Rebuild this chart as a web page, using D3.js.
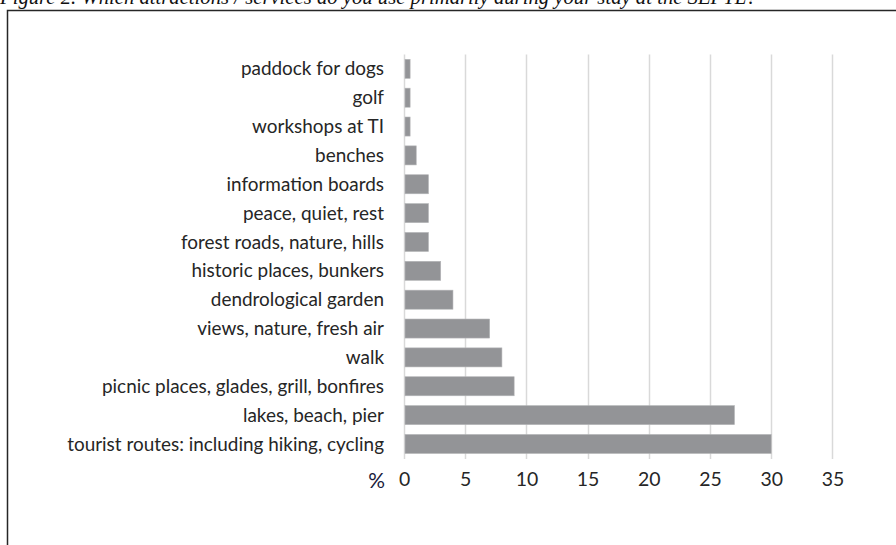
<!DOCTYPE html>
<html>
<head>
<meta charset="utf-8">
<script src="https://cdn.jsdelivr.net/npm/d3@7"></script>
<style>
  html, body { margin: 0; padding: 0; background: #fff; }
  svg { display: block; }
</style>
</head>
<body>
<svg id="chart" width="896" height="545"></svg>
<script>
const title = "Figure 2. Which attractions / services do you use primarily during your stay at the SEPTL?";
const categories = [
  "paddock for dogs",
  "golf",
  "workshops at TI",
  "benches",
  "information boards",
  "peace, quiet, rest",
  "forest roads, nature, hills",
  "historic places, bunkers",
  "dendrological garden",
  "views, nature, fresh air",
  "walk",
  "picnic places, glades, grill, bonfires",
  "lakes, beach, pier",
  "tourist routes: including hiking, cycling"
];
const values = [0.5, 0.5, 0.5, 1, 2, 2, 2, 3, 4, 7, 8, 9, 27, 30];
const tickValues = [0, 5, 10, 15, 20, 25, 30, 35];
const axisUnit = "%";

const svg = d3.select("#chart");

// frame
svg.append("path")
  .attr("d", "M7.5,545 L7.5,10.5 L896,10.5")
  .attr("fill", "none")
  .attr("stroke", "#262626")
  .attr("stroke-width", 1.5);

// title (clipped at top)
const t = svg.append("text")
  .attr("x", 0)
  .attr("y", 4)
  .attr("font-family", "'Liberation Serif', serif")
  .attr("font-style", "italic")
  .attr("font-size", 15)
  .attr("fill", "#111")
  .text(title);
const tw = t.node().getComputedTextLength();
t.attr("font-size", 15 * 757 / tw);

const x = d3.scaleLinear().domain([0, 35]).range([404, 832.4]);
const y = d3.scaleBand().domain(categories).range([54.4, 458.4]).paddingInner(0.34).paddingOuter(0.17);

// gridlines
svg.append("g")
  .selectAll("line")
  .data(tickValues)
  .join("line")
  .attr("x1", d => Math.round(x(d)) + 0.5)
  .attr("x2", d => Math.round(x(d)) + 0.5)
  .attr("y1", 54.5)
  .attr("y2", 459)
  .attr("stroke", "#d9d9d9")
  .attr("stroke-width", 1.5);

// bars
svg.append("g")
  .selectAll("rect")
  .data(values)
  .join("rect")
  .attr("x", x(0) + 1)
  .attr("y", (d, i) => y(categories[i]))
  .attr("width", d => x(d) - x(0) - 1)
  .attr("height", y.bandwidth())
  .attr("fill", "#939497")
  .attr("stroke", "#b5b6b8")
  .attr("stroke-width", 0.6);

// category labels
const labelFont = "Lato, 'Open Sans', sans-serif";
const labels = svg.append("g")
  .selectAll("text")
  .data(categories)
  .join("text")
  .attr("x", 384)
  .attr("y", d => y(d) + y.bandwidth() / 2)
  .attr("dy", "0.35em")
  .attr("text-anchor", "end")
  .attr("font-family", labelFont)
  .attr("font-size", 15)
  .attr("fill", "#262626")
  .text(d => d);
let maxW = 0;
labels.each(function() { maxW = Math.max(maxW, this.getComputedTextLength()); });
const fs = 15 * 317 / maxW;
labels.attr("font-size", fs);

// x axis tick labels
const axis = d3.axisBottom(x).tickValues(tickValues).tickSize(0).tickPadding(0);
const gx = svg.append("g").attr("transform", "translate(0,472)").call(axis);
gx.select(".domain").remove();
gx.selectAll("text")
  .attr("font-family", labelFont)
  .attr("font-size", fs + 0.5)
  .attr("fill", "#262626");

svg.append("text")
  .attr("x", 385)
  .attr("y", 481)
  .attr("dy", "0.35em")
  .attr("text-anchor", "end")
  .attr("font-family", labelFont)
  .attr("font-size", fs + 2)
  .attr("fill", "#1a1a3a")
  .text(axisUnit);
</script>
</body>
</html>
